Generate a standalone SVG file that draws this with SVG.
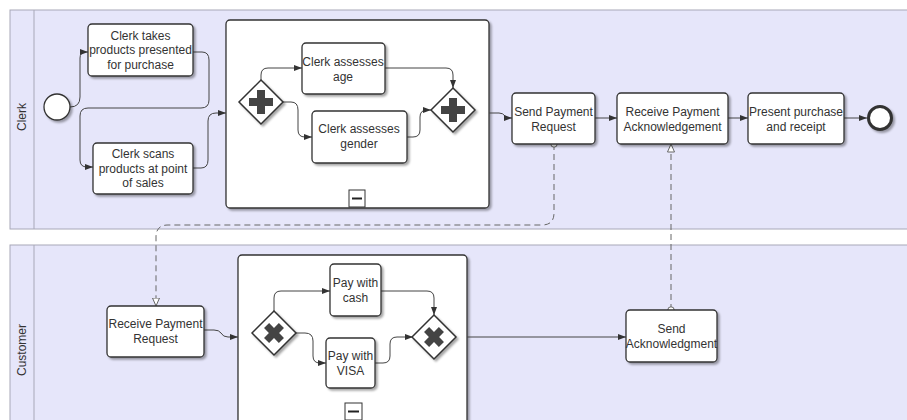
<svg xmlns="http://www.w3.org/2000/svg" width="907" height="420" viewBox="0 0 907 420">
<defs>
<filter id="sh" x="-10%" y="-10%" width="130%" height="130%">
<feDropShadow dx="2" dy="2" stdDeviation="1.2" flood-color="#000" flood-opacity="0.35"/>
</filter>
<marker id="arr" markerWidth="8" markerHeight="6" refX="8" refY="3" orient="auto" markerUnits="userSpaceOnUse">
<path d="M0,0 L8,3 L0,6 z" fill="#333"/>
</marker>
<marker id="open" markerWidth="9" markerHeight="8" refX="8.5" refY="4" orient="auto" markerUnits="userSpaceOnUse">
<path d="M0.5,0.5 L8.5,4 L0.5,7.5 z" fill="#fff" stroke="#666" stroke-width="1"/>
</marker>
<marker id="dot" markerWidth="8" markerHeight="8" refX="4" refY="4" orient="auto" markerUnits="userSpaceOnUse">
<circle cx="4" cy="4" r="3.2" fill="#fff" stroke="#666" stroke-width="1"/>
</marker>
<path id="xmark" d="M-3.6,-10.5 h7.2 v6.9 h6.9 v7.2 h-6.9 v6.9 h-7.2 v-6.9 h-6.9 v-7.2 h6.9 z" fill="#444"/>
</defs>
<style>
.lane{fill:#e6e6fa;stroke:#a8a8b8;stroke-width:1}
.task{fill:#fff;stroke:#333;stroke-width:1.3;filter:url(#sh)}
.sub{fill:#fff;stroke:#333;stroke-width:1.3;filter:url(#sh)}
.gw{fill:#fff;stroke:#333;stroke-width:1.5;filter:url(#sh)}
.mk{fill:#444}
.t{font-family:"Liberation Sans",Arial,sans-serif;font-size:12px;fill:#333;text-anchor:middle}
.flow{fill:none;stroke:#444;stroke-width:1;marker-end:url(#arr)}
.msg{fill:none;stroke:#666;stroke-width:1;stroke-dasharray:6,4;marker-start:url(#dot);marker-end:url(#open)}
</style>
<rect width="907" height="420" fill="#fff"/>
<g id="lane-clerk">
<rect class="lane" x="10" y="10" width="910" height="219"/>
<line x1="34" y1="10" x2="34" y2="229" stroke="#a8a8b8"/>
<text class="t" transform="translate(26,117) rotate(-90)">Clerk</text>
</g>
<g id="lane-customer">
<rect class="lane" x="10" y="245" width="910" height="190"/>
<line x1="34" y1="245" x2="34" y2="420" stroke="#a8a8b8"/>
<text class="t" transform="translate(26,350) rotate(-90)">Customer</text>
</g>
<g id="sub-clerk">
<rect class="sub" x="226" y="20" width="263" height="188" rx="4"/>
<rect x="349" y="190" width="16" height="17" fill="#fff" stroke="#333" stroke-width="1"/>
<line x1="352" y1="198.5" x2="362" y2="198.5" stroke="#222" stroke-width="2"/>
</g>
<g id="sub-customer">
<rect class="sub" x="238" y="255" width="229" height="170" rx="4"/>
<rect x="345" y="403" width="17" height="17" fill="#fff" stroke="#333" stroke-width="1"/>
<line x1="348" y1="411.5" x2="359" y2="411.5" stroke="#222" stroke-width="2"/>
</g>
<g id="connectors">
<path class="flow" d="M70,107 Q80,107 80,97 L80,58 Q80,52 86,52 L88,52"/>
<path class="flow" d="M193,52 L202,52 Q209,52 209,60 L209,100 Q209,108 201,108 L88,108 Q80,108 80,116 L80,160 Q80,167 87,167 L93,167"/>
<path class="flow" d="M193,168 L201,168 Q208,168 208,160 L208,121 Q208,113 216,113 L226,113"/>
<path class="flow" d="M261,80 L261,75 Q261,68 268,68 L302,68"/>
<path class="flow" d="M385,68 L446,68 Q453,68 453,75 L453,88"/>
<path class="flow" d="M283,102 L291,102 Q298,102 298,110 L298,130 Q298,137 305,137 L312,137"/>
<path class="flow" d="M407,137 L413,137 Q420,137 420,130 L420,117 Q420,110 427,110 L431,110"/>
<path class="flow" d="M489,113 L499,113 Q503,113 505,116 Q507,118 511,118 L512,118"/>
<path class="flow" d="M595,118 L617,118"/>
<path class="flow" d="M728,118 L748,118"/>
<path class="flow" d="M844,118 L867,118"/>
<path class="flow" d="M204,330 L214,330 Q219,330 221,333 Q223,337 228,337 L238,337"/>
<path class="flow" d="M274,311 L274,298 Q274,291 281,291 L330,291"/>
<path class="flow" d="M381,291 L427,291 Q434,291 434,298 L434,315"/>
<path class="flow" d="M296,333 L305,333 Q313,333 313,341 L313,356 Q313,363 320,363 L326,363"/>
<path class="flow" d="M375,363 L383,363 Q390,363 390,356 L390,344 Q390,337 397,337 L413,337"/>
<path class="flow" d="M467,337 L626,337"/>
<path class="msg" d="M554,144 L554,213 Q554,225 542,225 L168,225 Q156,225 156,237 L156,306"/>
<path class="msg" d="M671,310 L671,144"/>
</g>
<g id="start">
<circle cx="57" cy="107" r="13" fill="#fff" stroke="#333" stroke-width="1.3" filter="url(#sh)"/>
</g>
<g id="task-takes">
<rect class="task" x="88" y="24" width="105" height="52" rx="4"/>
<text class="t" x="140.5" y="39.5">Clerk takes</text>
<text class="t" x="140.5" y="54">products presented</text>
<text class="t" x="140.5" y="68.5">for purchase</text>
</g>
<g id="task-scans">
<rect class="task" x="93" y="143" width="100" height="51" rx="4"/>
<text class="t" x="143" y="158">Clerk scans</text>
<text class="t" x="143" y="172.5">products at point</text>
<text class="t" x="143" y="187">of sales</text>
</g>
<g id="gw-split-clerk">
<path class="gw" d="M261,80 L283,102 L261,124 L239,102 z"/>
<path class="mk" d="M257,90 h8 v8 h8 v8 h-8 v8 h-8 v-8 h-8 v-8 h8 z"/>
</g>
<g id="task-age">
<rect class="task" x="302" y="43" width="83" height="51" rx="4"/>
<text class="t" x="343" y="66">Clerk assesses</text>
<text class="t" x="343" y="80.5">age</text>
</g>
<g id="task-gender">
<rect class="task" x="312" y="111" width="95" height="52" rx="4"/>
<text class="t" x="359" y="133">Clerk assesses</text>
<text class="t" x="359" y="147.5">gender</text>
</g>
<g id="gw-join-clerk">
<path class="gw" d="M453,88 L475,110 L453,132 L431,110 z"/>
<path class="mk" d="M449,98 h8 v8 h8 v8 h-8 v8 h-8 v-8 h-8 v-8 h8 z"/>
</g>
<g id="task-send-req">
<rect class="task" x="512" y="93" width="83" height="51" rx="4"/>
<text class="t" x="553.5" y="116">Send Payment</text>
<text class="t" x="553.5" y="130.5">Request</text>
</g>
<g id="task-recv-ack">
<rect class="task" x="617" y="93" width="111" height="51" rx="4"/>
<text class="t" x="672.5" y="116">Receive Payment</text>
<text class="t" x="672.5" y="130.5">Acknowledgement</text>
</g>
<g id="task-present">
<rect class="task" x="748" y="93" width="96" height="51" rx="4"/>
<text class="t" x="796" y="116">Present purchase</text>
<text class="t" x="796" y="130.5">and receipt</text>
</g>
<g id="end">
<circle cx="880" cy="118" r="11.5" fill="#fff" stroke="#333" stroke-width="3" filter="url(#sh)"/>
</g>
<g id="task-recv-req">
<rect class="task" x="107" y="306" width="97" height="51" rx="4"/>
<text class="t" x="155.5" y="328">Receive Payment</text>
<text class="t" x="155.5" y="342.5">Request</text>
</g>
<g id="gw-split-cust">
<path class="gw" d="M274,311 L296,333 L274,355 L252,333 z"/>
<use href="#xmark" transform="translate(274,333) rotate(45)"/>
</g>
<g id="task-cash">
<rect class="task" x="330" y="264" width="51" height="52" rx="4"/>
<text class="t" x="355.5" y="287">Pay with</text>
<text class="t" x="355.5" y="301.5">cash</text>
</g>
<g id="task-visa">
<rect class="task" x="326" y="338" width="49" height="50" rx="4"/>
<text class="t" x="350.5" y="360">Pay with</text>
<text class="t" x="350.5" y="374.5">VISA</text>
</g>
<g id="gw-join-cust">
<path class="gw" d="M434,315 L456,337 L434,359 L412,337 z"/>
<use href="#xmark" transform="translate(434,337) rotate(45)"/>
</g>
<g id="task-send-ack">
<rect class="task" x="626" y="310" width="91" height="52" rx="4"/>
<text class="t" x="671.5" y="333">Send</text>
<text class="t" x="671.5" y="347.5">Acknowledgment</text>
</g>
</svg>
